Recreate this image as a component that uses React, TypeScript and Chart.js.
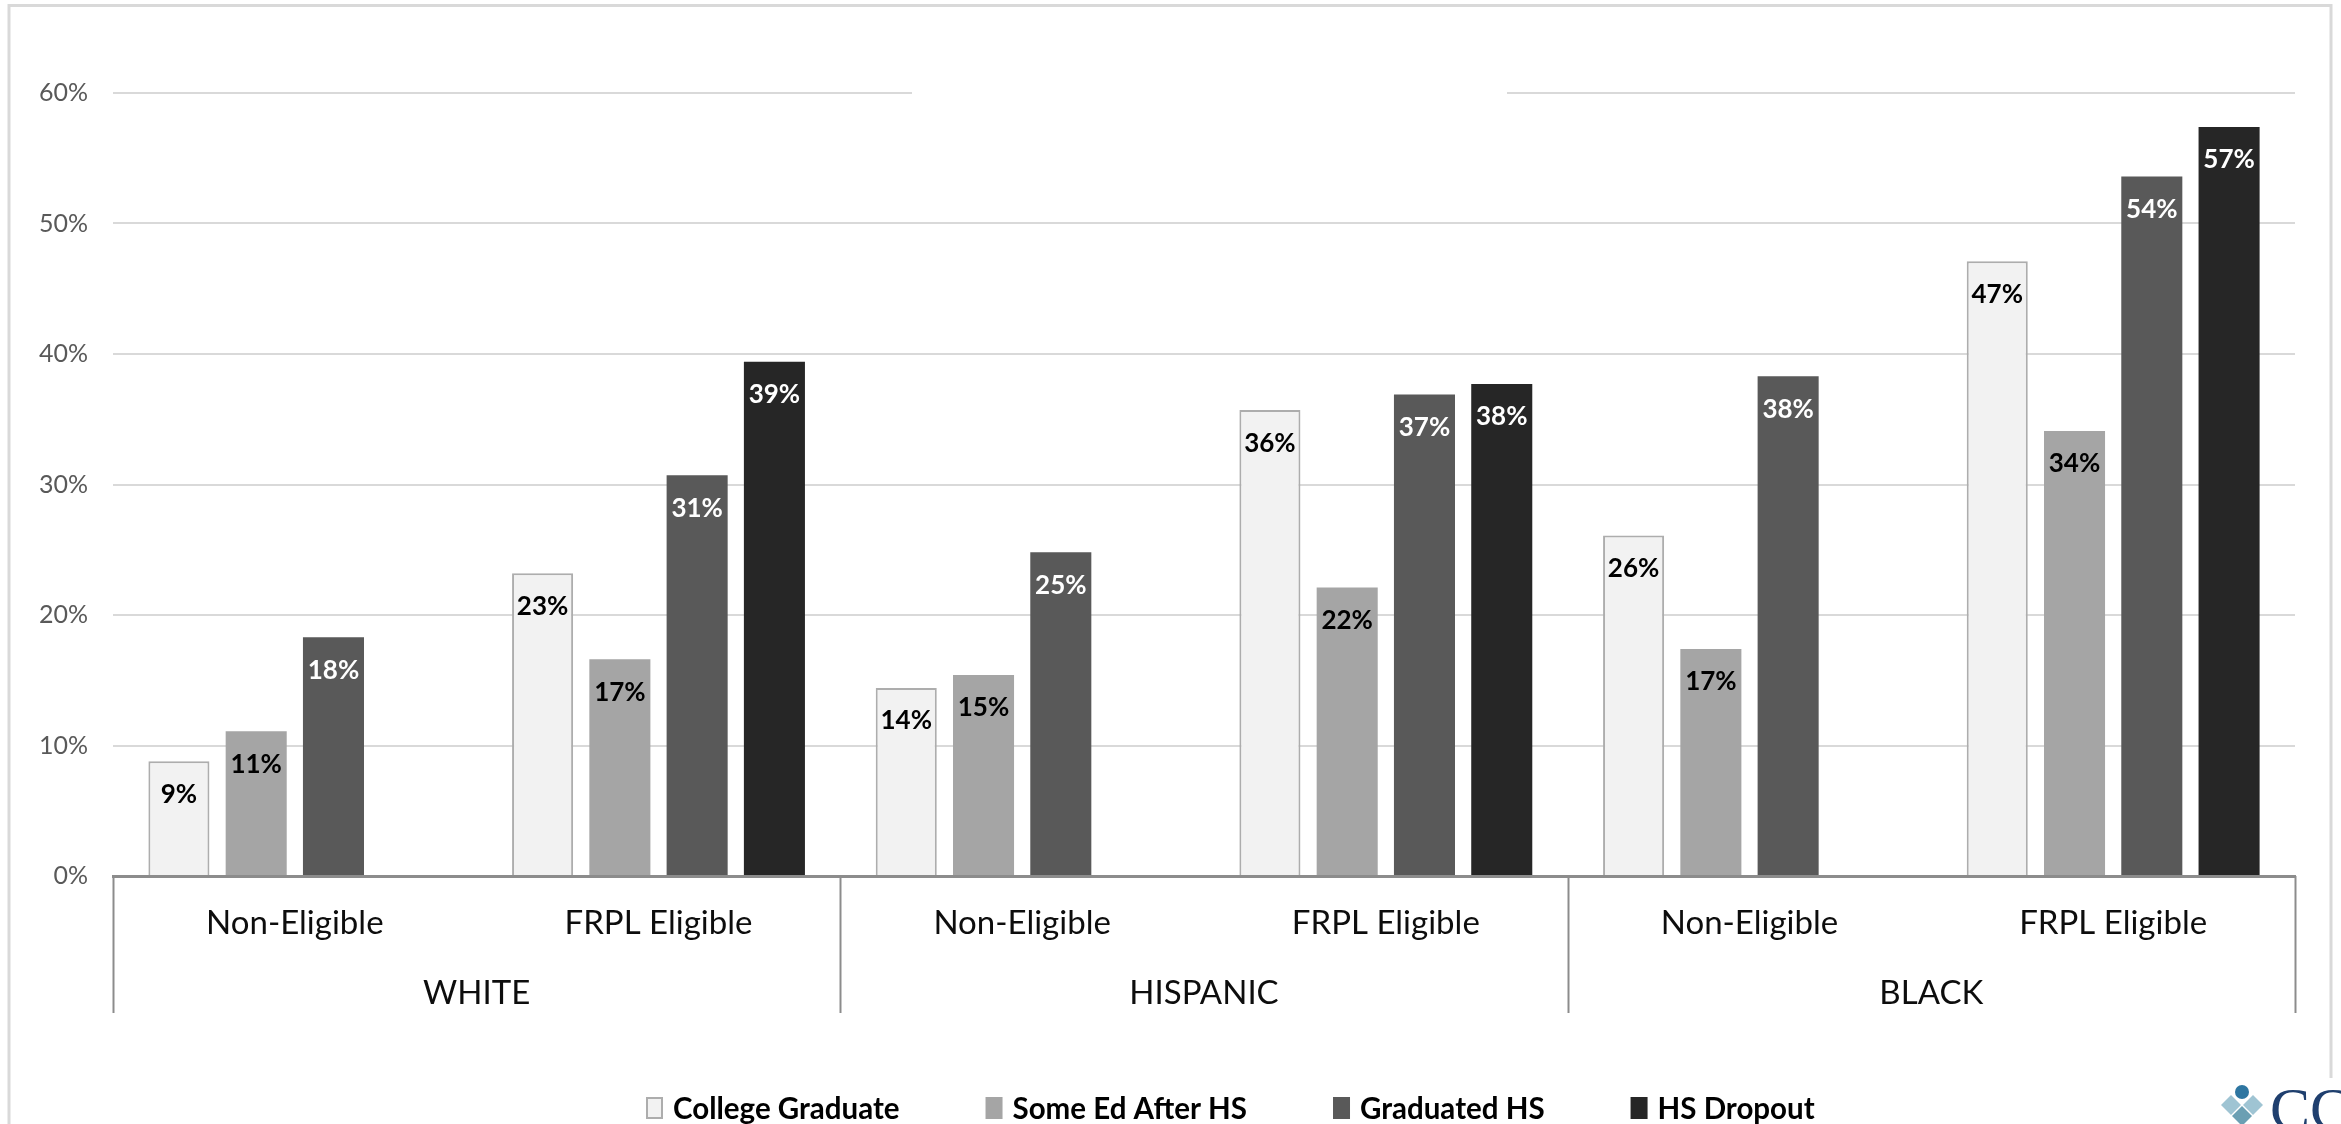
import React, { useEffect, useRef } from "react";
import { Chart, registerables } from "chart.js";

Chart.register(...registerables);

// ---------- data ----------
const subCategories = ["Non-Eligible", "FRPL Eligible", "Non-Eligible", "FRPL Eligible", "Non-Eligible", "FRPL Eligible"];
const groupLabels = ["WHITE", "HISPANIC", "BLACK"];
const seriesNames = ["College Graduate", "Some Ed After HS", "Graduated HS", "HS Dropout"];
const collegeGraduate = [8.8, 23.2, 14.4, 35.7, 26.1, 47.1];
const someEdAfterHS = [11.1, 16.6, 15.4, 22.1, 17.4, 34.1];
const graduatedHS = [18.3, 30.7, 24.8, 36.9, 38.3, 53.6];
const hsDropout = [null, 39.4, null, 37.7, null, 57.4];
const yMin = 0;
const yMax = 60;
const yStep = 10;

// ---------- styles ----------
const FONT = "Lato, 'Open Sans', 'Liberation Sans', sans-serif";
const fills = ["#f2f2f2", "#a5a5a5", "#595959", "#262626"];
const borders = ["#adadad", "#a5a5a5", "#595959", "#262626"];
const borderWidths = [2, 0, 0, 0];
const labelColors = ["#000000", "#000000", "#ffffff", "#ffffff"];

const decorPlugin = {
  id: "decor",
  beforeDatasetsDraw(chart: any) {
    // gap in the top gridline (as in the reference)
    const ctx = chart.ctx;
    const py = chart.scales.y.getPixelForValue(yMax);
    ctx.save();
    ctx.fillStyle = "#ffffff";
    ctx.fillRect(912, py - 4, 1507 - 912, 8);
    ctx.restore();
  },
  afterDraw(chart: any) {
    const ctx = chart.ctx;
    const xs = chart.scales.x;
    const area = chart.chartArea;
    ctx.save();

    // outer frame
    ctx.strokeStyle = "#d9d9d9";
    ctx.lineWidth = 3;
    ctx.beginPath();
    ctx.moveTo(9, 1124);
    ctx.lineTo(9, 5.5);
    ctx.lineTo(2331, 5.5);
    ctx.lineTo(2331, 1078);
    ctx.stroke();

    // data labels
    ctx.font = `bold 26px ${FONT}`;
    ctx.textAlign = "center";
    ctx.textBaseline = "middle";
    chart.data.datasets.forEach((ds: any, di: number) => {
      const meta = chart.getDatasetMeta(di);
      meta.data.forEach((bar: any, i: number) => {
        const v = ds.data[i];
        if (v === null || v === undefined) return;
        ctx.fillStyle = labelColors[di];
        ctx.fillText(Math.round(v) + "%", bar.x, bar.y + 33);
      });
    });

    // group separators + group labels
    ctx.strokeStyle = "#8c8c8c";
    ctx.lineWidth = 2;
    for (let g = 0; g <= groupLabels.length; g++) {
      let bx: number;
      if (g === 0) bx = area.left;
      else if (g === groupLabels.length) bx = area.right;
      else bx = (xs.getPixelForValue(2 * g - 1) + xs.getPixelForValue(2 * g)) / 2;
      ctx.beginPath();
      ctx.moveTo(Math.round(bx) + 0.5, area.bottom);
      ctx.lineTo(Math.round(bx) + 0.5, area.bottom + 137);
      ctx.stroke();
    }
    ctx.fillStyle = "#0d0d0d";
    ctx.font = `33px ${FONT}`;
    groupLabels.forEach((lab, g) => {
      const cx = (xs.getPixelForValue(2 * g) + xs.getPixelForValue(2 * g + 1)) / 2;
      ctx.fillText(lab, cx, area.bottom + 117);
    });

    // legend
    ctx.font = `bold 29.5px ${FONT}`;
    ctx.textAlign = "left";
    let lx = 646;
    const ly = 1108;
    seriesNames.forEach((name, i) => {
      ctx.fillStyle = fills[i];
      ctx.fillRect(lx, ly - 11, 17, 22);
      if (i === 0) {
        ctx.strokeStyle = borders[0];
        ctx.lineWidth = 2;
        ctx.strokeRect(lx + 1, ly - 10, 15, 20);
      }
      ctx.fillStyle = "#000000";
      ctx.fillText(name, lx + 27, ly + 1);
      lx += 27 + ctx.measureText(name).width + 86;
    });

    // logo (bottom right)
    ctx.fillStyle = "#ffffff";
    ctx.fillRect(2215, 1079, 126, 45);
    const diamond = (cx: number, cy: number, r: number, col: string) => {
      ctx.fillStyle = col;
      ctx.beginPath();
      ctx.moveTo(cx, cy - r);
      ctx.lineTo(cx + r, cy);
      ctx.lineTo(cx, cy + r);
      ctx.lineTo(cx - r, cy);
      ctx.closePath();
      ctx.fill();
    };
    diamond(2231, 1105, 10, "#9fc4d3");
    diamond(2253, 1105, 10, "#9fc4d3");
    diamond(2242, 1116, 10, "#6b9fb3");
    ctx.fillStyle = "#2e76a1";
    ctx.beginPath();
    ctx.arc(2242, 1092, 7, 0, Math.PI * 2);
    ctx.fill();
    ctx.fillStyle = "#1f3f6e";
    ctx.font = `60px 'Liberation Serif', 'DejaVu Serif', serif`;
    ctx.textBaseline = "alphabetic";
    ctx.fillText("CC", 2270, 1129);

    ctx.restore();
  },
};

export default function App() {
  const canvasRef = useRef<HTMLCanvasElement | null>(null);

  useEffect(() => {
    document.body.style.margin = "0";
    document.body.style.overflow = "hidden";
    const canvas = canvasRef.current;
    if (!canvas) return;
    const seriesData = [collegeGraduate, someEdAfterHS, graduatedHS, hsDropout];
    const chart = new Chart(canvas, {
      type: "bar",
      data: {
        labels: subCategories,
        datasets: seriesNames.map((name, i) => ({
          label: name,
          data: seriesData[i] as any,
          backgroundColor: fills[i],
          borderColor: borders[i],
          borderWidth: borderWidths[i],
          barPercentage: 0.79,
          categoryPercentage: 0.85,
        })),
      },
      options: {
        responsive: false,
        animation: false,
        devicePixelRatio: 1,
        layout: { padding: { top: 93, right: 46, bottom: 0, left: 0 } },
        plugins: {
          legend: { display: false },
          tooltip: { enabled: false },
          title: { display: false },
        },
        scales: {
          x: {
            type: "category",
            grid: { display: false, drawTicks: false },
            border: { display: true, color: "#8c8c8c", width: 3 },
            ticks: {
              color: "#0d0d0d",
              font: { family: FONT, size: 33 },
              padding: 28,
              maxRotation: 0,
              autoSkip: false,
            },
            afterFit: (s: any) => {
              s.height = 1124 - 876;
            },
          },
          y: {
            min: yMin,
            max: yMax,
            ticks: {
              stepSize: yStep,
              color: "#595959",
              font: { family: FONT, size: 25 },
              padding: 25,
              callback: (v: any) => v + "%",
            },
            grid: { color: "#d9d9d9", lineWidth: 2, drawTicks: false },
            border: { display: false },
            afterFit: (s: any) => {
              s.width = 113;
            },
          },
        },
      },
      plugins: [decorPlugin],
    });
    return () => chart.destroy();
  }, []);

  return (
    <div style={{ width: 2341, height: 1124, background: "#ffffff" }}>
      <canvas ref={canvasRef} width={2341} height={1124} style={{ display: "block" }} />
    </div>
  );
}
